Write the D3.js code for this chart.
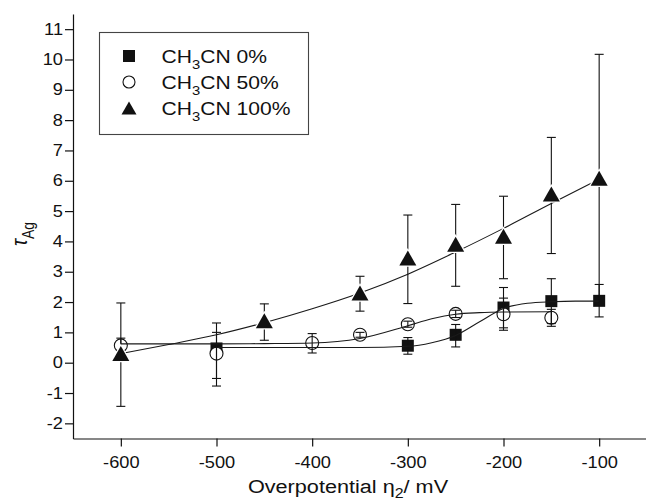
<!DOCTYPE html>
<html>
<head>
<meta charset="utf-8">
<script src="https://cdn.jsdelivr.net/npm/d3@7"></script>
<style>
  html, body { margin: 0; padding: 0; background: #fff; }
  svg { display: block; }
  text { font-family: "Liberation Sans", Arial, Helvetica, sans-serif; fill: #111; }
</style>
</head>
<body>
<svg id="chart" width="646" height="503"></svg>
<script>
// ---- data -------------------------------------------------------------
const seriesNames = ["0%", "50%", "100%"];

// CH3CN 0 % (squares)
const sqX  = [-500, -300, -250, -200, -150, -100];
const sqY  = [0.47, 0.56, 0.92, 1.82, 2.03, 2.04];
const sqHi = [1.00, 0.83, 1.26, 2.48, 2.77, 2.58];
const sqLo = [-0.52, 0.28, 0.52, 1.15, 1.29, 1.51];

// CH3CN 50 % (open circles)
const ciX  = [-600, -500, -400, -350, -300, -250, -200, -150];
const ciY  = [0.57, 0.30, 0.65, 0.92, 1.27, 1.61, 1.60, 1.48];
const ciHi = [0.81, 1.31, 0.96, 1.00, 1.37, 1.73, 2.13, 1.76];
const ciLo = [0.33, -0.77, 0.32, 0.84, 1.17, 1.49, 1.07, 1.20];

// CH3CN 100 % (triangles)
const trX  = [-600, -450, -350, -300, -250, -200, -150, -100];
const trY  = [0.30, 1.38, 2.30, 3.45, 3.91, 4.17, 5.56, 6.08];
const trHi = [1.97, 1.94, 2.85, 4.87, 5.22, 5.49, 7.43, 10.17];
const trLo = [-1.44, 0.74, 1.70, 1.95, 2.52, 2.77, 3.60, 1.95];

// fitted curves
const fitSqX = [-500, -450, -400, -350, -300, -275, -250, -225, -200, -175, -150, -125, -100];
const fitSqY = [0.50, 0.50, 0.50, 0.50, 0.54, 0.66, 0.90, 1.35, 1.79, 1.96, 2.01, 2.03, 2.03];
const fitCiX = [-600, -550, -500, -450, -400, -350, -300, -275, -250, -225, -200, -150];
const fitCiY = [0.62, 0.62, 0.62, 0.63, 0.65, 0.80, 1.22, 1.45, 1.60, 1.65, 1.67, 1.68];
const fitTrX = [-600, -550, -500, -450, -400, -350, -300, -250, -200, -150, -100];
const fitTrY = [0.30, 0.60, 0.92, 1.32, 1.78, 2.30, 2.92, 3.65, 4.43, 5.25, 6.05];

// axis ticks
const xMajor = [-600, -500, -400, -300, -200, -100];
const xMinor = [-650, -550, -450, -350, -250, -150, -50];
const yMajor = [-2, -1, 0, 1, 2, 3, 4, 5, 6, 7, 8, 9, 10, 11];
const yMinor = [-2.5, -1.5, -0.5, 0.5, 1.5, 2.5, 3.5, 4.5, 5.5, 6.5, 7.5, 8.5, 9.5, 10.5, 11.5];

// ---- layout -----------------------------------------------------------
const SX = 1.14;           // horizontal stretch of lettering
const svg = d3.select("#chart");
const x = d3.scaleLinear().domain([-650, -50]).range([73, 647]);
const y = d3.scaleLinear().domain([-2.5, 11.5]).range([438.5, 14]);
const ink = "#111";
const plain = d => String(d);   // ASCII hyphen for negatives

// ---- axes -------------------------------------------------------------
function styleAxis(g) {
  g.attr("font-family", null).attr("font-size", null);
  g.selectAll("path, line").attr("stroke", ink).attr("stroke-width", 1.2);
}

const yAxisG = svg.append("g").attr("transform", `translate(${x.range()[0]},0)`);
yAxisG.call(d3.axisLeft(y).tickValues(yMinor).tickSize(4).tickSizeOuter(0).tickFormat(""));
yAxisG.call(d3.axisLeft(y).tickValues(yMajor).tickSize(8).tickSizeOuter(0).tickFormat(plain));
styleAxis(yAxisG);
yAxisG.selectAll("text")
  .attr("x", -10 / SX)
  .attr("transform", `scale(${SX},1)`)
  .style("font-size", "16px").attr("fill", ink);

const xAxisG = svg.append("g").attr("transform", `translate(0,${y.range()[0]})`);
xAxisG.call(d3.axisBottom(x).tickValues(xMinor).tickSize(4).tickSizeOuter(0).tickFormat(""));
xAxisG.call(d3.axisBottom(x).tickValues(xMajor).tickSize(8).tickSizeOuter(0).tickFormat(plain));
styleAxis(xAxisG);
xAxisG.selectAll("text")
  .attr("y", 30).attr("dy", 0)
  .attr("transform", `scale(${SX},1)`)
  .style("font-size", "16px").attr("fill", ink);

// axis titles
const xt = svg.append("text")
  .attr("transform", `translate(348,493) scale(${SX},1)`)
  .attr("text-anchor", "middle").style("font-size", "19px");
xt.append("tspan").text("Overpotential η");
xt.append("tspan").attr("dy", 5).style("font-size", "14px").text("2");
xt.append("tspan").attr("dy", -5).text("/ mV");

const yt = svg.append("text")
  .attr("transform", `translate(27,234) rotate(-90) scale(1,${SX})`)
  .attr("text-anchor", "middle").style("font-size", "19px");
yt.append("tspan").style("font-style", "italic").text("τ");
yt.append("tspan").attr("dy", 6).style("font-size", "14px").text("Ag");

// ---- marks ------------------------------------------------------------
const zip = (xs, ys, hi, lo) => xs.map((v, i) => ({ x: v, y: ys[i], hi: hi ? hi[i] : null, lo: lo ? lo[i] : null }));
const squares   = zip(sqX, sqY, sqHi, sqLo);
const circles   = zip(ciX, ciY, ciHi, ciLo);
const triangles = zip(trX, trY, trHi, trLo);

const line = d3.line().x(d => x(d.x)).y(d => y(d.y)).curve(d3.curveMonotoneX);
const plot = svg.append("g");

function drawSquares(g, data, s) {
  g.selectAll(null).data(data).join("rect")
    .attr("x", d => x(d.x) - s / 2).attr("y", d => y(d.y) - s / 2)
    .attr("width", s).attr("height", s).attr("fill", ink);
}
function drawCircles(g, data, r) {
  g.selectAll(null).data(data).join("circle")
    .attr("cx", d => x(d.x)).attr("cy", d => y(d.y)).attr("r", r)
    .attr("fill", "#fff").attr("stroke", ink).attr("stroke-width", 1.1);
}
function triPath(w, h) {
  return `M0,${-h / 2}L${w / 2},${h / 2}L${-w / 2},${h / 2}Z`;
}
function drawTriangles(g, data, w, h, halo) {
  g.selectAll(null).data(data).join("path")
    .attr("d", triPath(w, h))
    .attr("transform", d => `translate(${x(d.x)},${y(d.y)})`)
    .attr("fill", ink)
    .attr("stroke", halo ? "#fff" : "none").attr("stroke-width", halo ? 2.5 : 0)
    .attr("paint-order", "stroke");
}
function drawErrors(g, data) {
  const cap = 4.5;
  const e = g.selectAll(null).data(data).join("g").attr("stroke", ink).attr("stroke-width", 1.1);
  e.append("line").attr("x1", d => x(d.x)).attr("x2", d => x(d.x))
    .attr("y1", d => y(d.hi)).attr("y2", d => y(d.lo));
  e.append("line").attr("x1", d => x(d.x) - cap).attr("x2", d => x(d.x) + cap)
    .attr("y1", d => y(d.hi)).attr("y2", d => y(d.hi));
  e.append("line").attr("x1", d => x(d.x) - cap).attr("x2", d => x(d.x) + cap)
    .attr("y1", d => y(d.lo)).attr("y2", d => y(d.lo));
}

drawSquares(plot, squares, 12);
drawCircles(plot, circles, 6.5);
drawErrors(plot, squares);
drawErrors(plot, circles);

const fits = [
  { xs: fitSqX, ys: fitSqY },
  { xs: fitCiX, ys: fitCiY },
  { xs: fitTrX, ys: fitTrY }
];
fits.forEach(f => {
  plot.append("path")
    .datum(f.xs.map((v, i) => ({ x: v, y: f.ys[i] })))
    .attr("d", line).attr("fill", "none")
    .attr("stroke", "#1a1a1a").attr("stroke-width", 1.1);
});

drawErrors(plot, triangles);
drawTriangles(plot, triangles, 17, 15, true);

// ---- legend -----------------------------------------------------------
const lg = svg.append("g");
lg.append("rect").attr("x", 99.5).attr("y", 32.5).attr("width", 209).attr("height", 102)
  .attr("fill", "#fff").attr("stroke", "#444").attr("stroke-width", 1.1);

const rowsY = [56, 82, 108];
const symX = 129;
lg.append("rect").attr("x", symX - 6).attr("y", rowsY[0] - 6).attr("width", 12).attr("height", 12).attr("fill", ink);
lg.append("circle").attr("cx", symX).attr("cy", rowsY[1]).attr("r", 6)
  .attr("fill", "#fff").attr("stroke", ink).attr("stroke-width", 1.1);
lg.append("path").attr("d", triPath(15, 13)).attr("transform", `translate(${symX},${rowsY[2]})`).attr("fill", ink);

seriesNames.forEach((name, i) => {
  const t = lg.append("text")
    .attr("transform", `translate(161.5,${rowsY[i] + 7}) scale(${SX},1)`)
    .style("font-size", "18.5px");
  t.append("tspan").text("CH");
  t.append("tspan").attr("dy", 6).style("font-size", "13px").text("3");
  t.append("tspan").attr("dy", -6).text("CN " + name);
});
</script>
</body>
</html>
